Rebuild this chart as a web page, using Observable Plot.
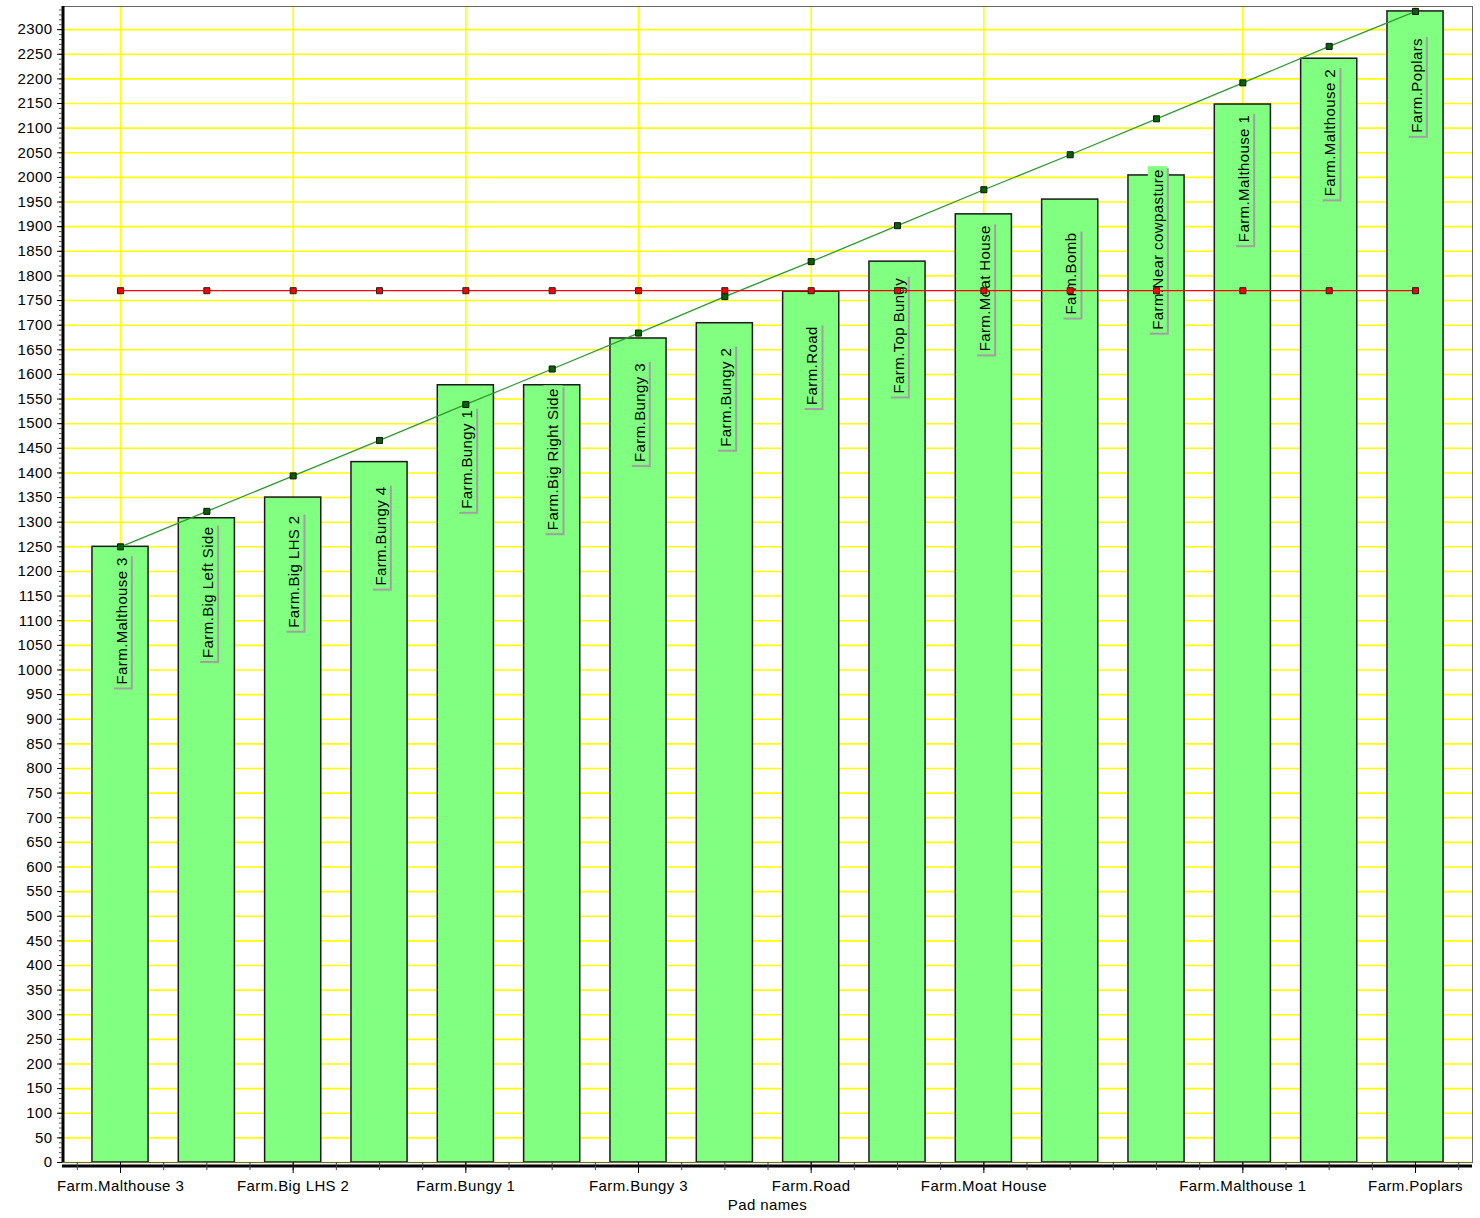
<!DOCTYPE html>
<html><head><meta charset="utf-8">
<script src="https://cdn.jsdelivr.net/npm/d3@7"></script>
<script src="https://cdn.jsdelivr.net/npm/@observablehq/plot@0.6"></script>
<style>
body{margin:0;background:#fff}
#chart svg{display:block}
#chart svg text{letter-spacing:0.4px}
</style>
</head><body><div id="chart"></div>
<script>
const categories = ["Farm.Malthouse 3", "Farm.Big Left Side", "Farm.Big LHS 2", "Farm.Bungy 4", "Farm.Bungy 1", "Farm.Big Right Side", "Farm.Bungy 3", "Farm.Bungy 2", "Farm.Road", "Farm.Top Bungy", "Farm.Moat House", "Farm.Bomb", "Farm.Near cowpasture", "Farm.Malthouse 1", "Farm.Malthouse 2", "Farm.Poplars"];
const barValues = [1250, 1308, 1350, 1422, 1578, 1578, 1673, 1704, 1768, 1829, 1925, 1955, 2004, 2148, 2241, 2337];
const trendValues = [1250, 1322, 1394, 1466, 1539, 1611, 1684, 1758, 1829, 1902, 1975, 2046, 2119, 2192, 2266, 2337];
const averageValues = [1770, 1770, 1770, 1770, 1770, 1770, 1770, 1770, 1770, 1770, 1770, 1770, 1770, 1770, 1770, 1770];
const xTickLabels = ["Farm.Malthouse 3", "Farm.Big LHS 2", "Farm.Bungy 1", "Farm.Bungy 3", "Farm.Road", "Farm.Moat House", "Farm.Malthouse 1", "Farm.Poplars"];
const yTickValues = d3.range(0, 2301, 50);
const yMinorTickValues = d3.range(0, 2341, 10);
const xMinorTickValues = d3.range(-0.5, 15.51, 0.5);
const xTitle = "Pad names";

const data = categories.map((name, i) => ({i, name, value: barValues[i], trend: trendValues[i], avg: averageValues[i]}));
const xMajor = xTickLabels.map(l => categories.indexOf(l));
const half = 0.325;
const xDomain = [-0.672, 15.66];

const chart = Plot.plot({
  width: 1480, height: 1218,
  marginLeft: 62, marginRight: 8, marginTop: 6, marginBottom: 56,
  style: {fontFamily: "'Liberation Sans', Arial, sans-serif", fontSize: "15px", background: "white", color: "black"},
  x: {type: "linear", domain: xDomain},
  y: {domain: [0, 2347]},
  marks: [
    Plot.ruleY(yTickValues, {stroke: "#ffff00", strokeWidth: 1.6}),
    Plot.ruleX(xMajor, {stroke: "#ffff00", strokeWidth: 1.6}),
    Plot.rect(data, {x1: d => d.i - half, x2: d => d.i + half, y1: 0, y2: "value", fill: "#80ff80", stroke: "#1a1a1a", strokeWidth: 1.5}),
    Plot.text(data, {x: "i", y: "value", text: "name", rotate: -90, dy: 74, dx: 1.5, textAnchor: "middle", lineAnchor: "middle", fill: "black"}),
    Plot.line(data, {x: "i", y: "trend", stroke: "#2e9a2e", strokeWidth: 1.3}),
    Plot.dot(data, {x: "i", y: "trend", symbol: "square", r: 3.4, fill: "#006400", stroke: "#101010", strokeWidth: 1}),
    Plot.line(data, {x: "i", y: "avg", stroke: "#ff0000", strokeWidth: 1.3}),
    Plot.dot(data, {x: "i", y: "avg", symbol: "square", r: 3.4, fill: "#ff0000", stroke: "#202020", strokeWidth: 1}),
    Plot.frame({stroke: "#666", strokeWidth: 1}),
    Plot.ruleX([xDomain[0]], {stroke: "#000", strokeWidth: 3, dx: 0.5}),
    Plot.ruleY([0], {stroke: "#000", strokeWidth: 3, dy: 3.5}),
    Plot.axisY(yMinorTickValues, {anchor: "left", tickSize: 3, stroke: "#555", tickFormat: () => "", label: null}),
    Plot.axisY(yTickValues, {anchor: "left", tickSize: 5, tickPadding: 5, stroke: "#000", fill: "#000", tickFormat: d => String(d), label: null}),
    Plot.axisX(xMinorTickValues, {anchor: "bottom", tickSize: 8, stroke: "#444", tickFormat: () => "", label: null}),
    Plot.axisX(xMajor, {anchor: "bottom", tickSize: 11, tickPadding: 7, stroke: "#000", fill: "#000", tickFormat: i => categories[i], label: null}),
    Plot.text([xTitle], {frameAnchor: "bottom", dy: 43, lineAnchor: "middle", fill: "#000"})
  ]
});
document.getElementById("chart").append(chart);

const g = chart.querySelectorAll('g[aria-label="text"]')[0];
if (g) {
  g.querySelectorAll("text").forEach(t => {
    const b = t.getBBox();
    const tr = t.getAttribute("transform");
    const mk = (ox, oy, fill) => {
      const r = document.createElementNS("http://www.w3.org/2000/svg", "rect");
      r.setAttribute("x", b.x - 3 + ox);
      r.setAttribute("y", b.y - 1 + oy);
      r.setAttribute("width", b.width + 6);
      r.setAttribute("height", b.height + 2);
      r.setAttribute("fill", fill);
      if (tr) r.setAttribute("transform", tr);
      return r;
    };
    g.insertBefore(mk(-2, 2, "#a0a0a0"), t);
    g.insertBefore(mk(0, 0, "#80ff80"), t);
  });
}
</script>
</body></html>
